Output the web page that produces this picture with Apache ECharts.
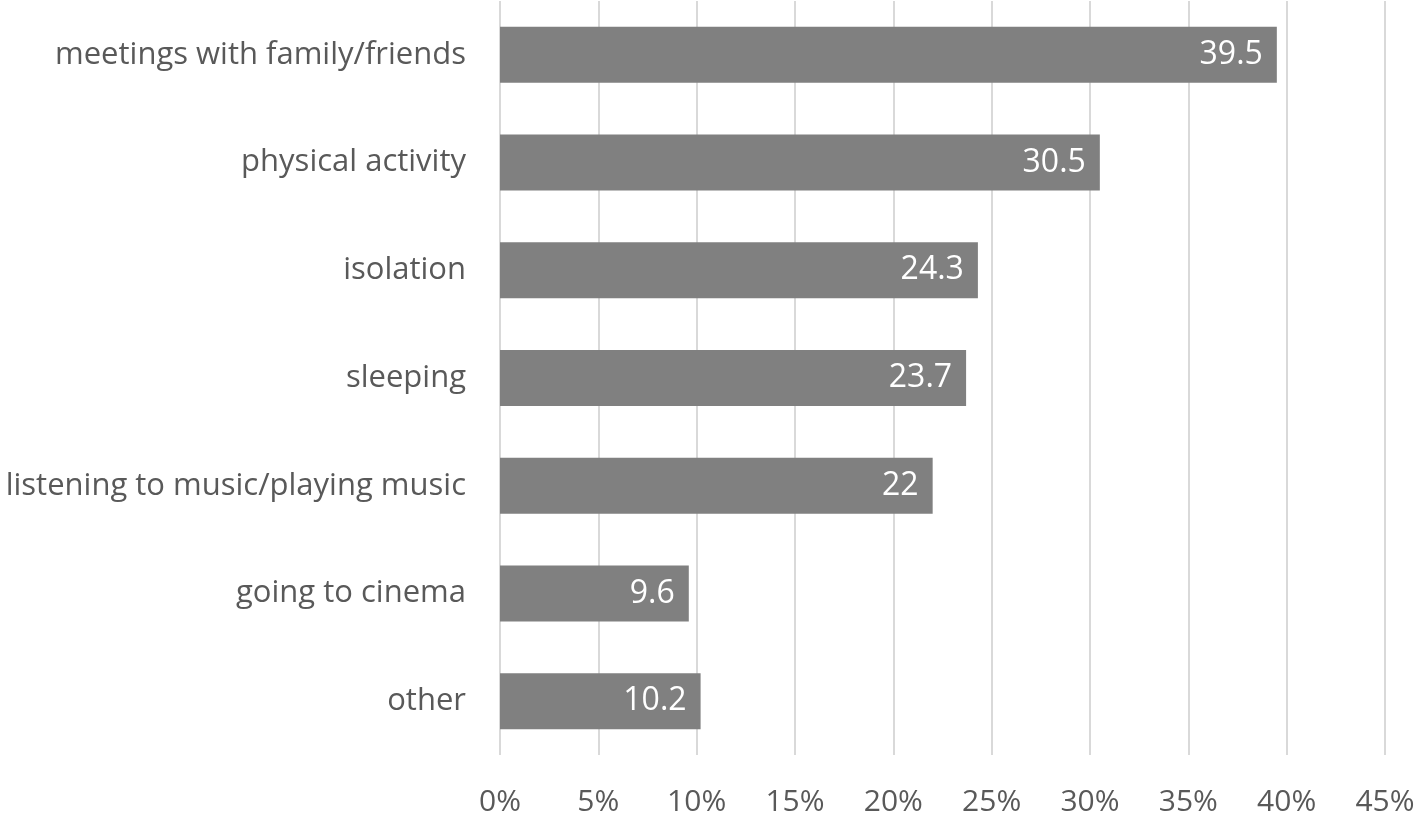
<!DOCTYPE html>
<html>
<head>
<meta charset="utf-8">
<script src="https://cdn.jsdelivr.net/npm/echarts@6/dist/echarts.min.js"></script>
<style>
  html, body { margin: 0; padding: 0; background: #fff; }
  #chart { width: 1418px; height: 817px; }
</style>
</head>
<body>
<div id="chart"></div>
<script>
// categories from top to bottom
const categories = [
  "meetings with family/friends",
  "physical activity",
  "isolation",
  "sleeping",
  "listening to music/playing music",
  "going to cinema",
  "other"
];
const values = [39.5, 30.5, 24.3, 23.7, 22, 9.6, 10.2];
const tickMax = 45;
const tickStep = 5;

const chart = echarts.init(document.getElementById("chart"));
chart.setOption({
  animation: false,
  grid: { left: 500, right: 33, top: 1, bottom: 60, containLabel: false },
  xAxis: {
    type: "value",
    min: 0,
    max: tickMax,
    interval: tickStep,
    axisLine: { show: false },
    axisTick: { show: false },
    splitLine: { lineStyle: { color: "#d9d9d9", width: 2 } },
    axisLabel: {
      formatter: "{value}%",
      color: "#595959",
      fontSize: 30,
      fontFamily: "Open Sans",
      margin: 32
    }
  },
  yAxis: {
    type: "category",
    inverse: true,
    data: categories,
    axisLine: { show: false },
    axisTick: { show: false },
    axisLabel: {
      color: "#595959",
      fontSize: 31,
      fontFamily: "Open Sans",
      margin: 34
    }
  },
  series: [{
    type: "bar",
    data: values,
    barWidth: "52%",
    itemStyle: { color: "#808080" },
    label: {
      show: true,
      position: "insideRight",
      distance: 14,
      color: "#ffffff",
      fontSize: 32,
      fontFamily: "Open Sans"
    }
  }]
});
</script>
</body>
</html>
